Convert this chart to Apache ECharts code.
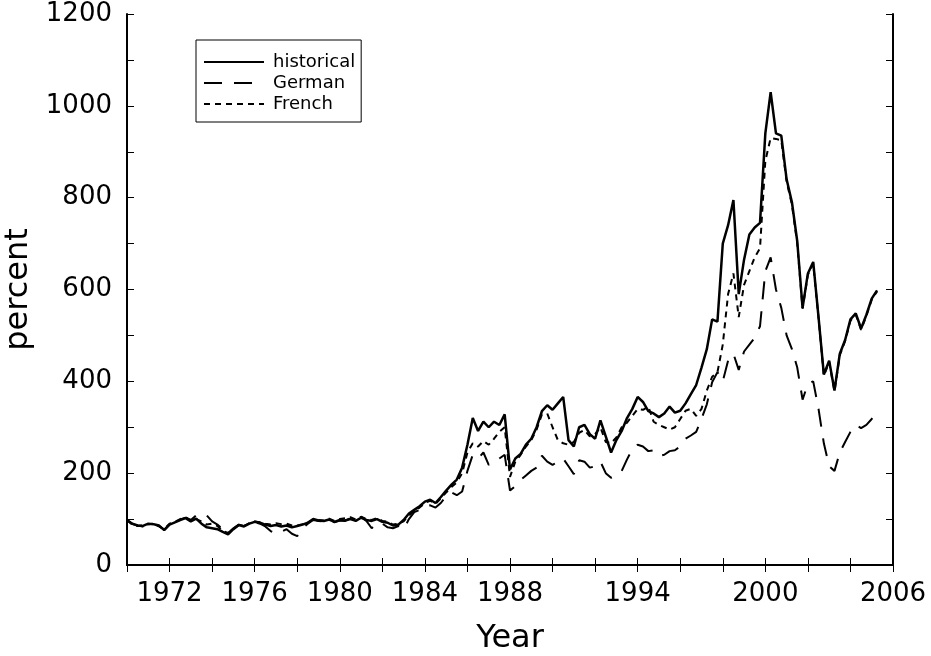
<!DOCTYPE html>
<html>
<head>
<meta charset="utf-8">
<script src="https://cdn.jsdelivr.net/npm/echarts@6/dist/echarts.min.js"></script>
<style>
  html, body { margin: 0; padding: 0; background: #fff; }
  #main { width: 931px; height: 656px; }
</style>
</head>
<body>
<div id="main"></div>
<script>
// quarterly samples, first one at 1970.0
var startYear = 1970;
var step = 0.25;

var xLabels = [1972, 1976, 1980, 1984, 1988, 1994, 2000, 2006];

var historical = [
  98, 90, 86, 85, 90, 89, 86, 76, 88, 93, 98, 102,
  95, 101, 90, 82, 80, 78, 72, 67, 78, 87, 84, 90,
  94, 92, 88, 85, 87, 84, 86, 82, 85, 88, 92, 100,
  97, 96, 99, 94, 98, 97, 100, 96, 103, 98, 96, 100,
  94, 92, 86, 88, 98, 112, 120, 128, 138, 142, 135, 148,
  162, 175, 186, 212, 262, 320, 292, 312, 300, 312, 305, 328,
  208, 232, 242, 262, 275, 300, 335, 348, 338, 352, 366, 272,
  258, 300, 305, 285, 275, 315, 280, 245, 272, 292, 320, 340,
  366, 355, 335, 330, 322, 330, 345, 332, 336, 352, 372, 392,
  430, 470, 535, 530, 700, 740, 795, 590, 665, 720, 735, 745,
  940, 1030, 940, 935, 840, 790, 705, 560, 635, 660, 540, 415,
  445, 380, 460, 490, 535, 548, 515, 545, 580, 598
];

var german = [
  98, 89, 86, 84, 89, 88, 85, 77, 89, 92, 99, 103,
  98, 108, 112, 108, 95, 88, 78, 70, 80, 88, 85, 90,
  93, 90, 84, 74, 68, 72, 78, 68, 63, 80, 90, 98,
  96, 95, 98, 93, 97, 96, 102, 98, 105, 96, 80, 92,
  90, 82, 80, 85, 78, 100, 115, 120, 128, 130, 125, 135,
  150, 158, 152, 160, 205, 240, 232, 245, 218, 225, 232, 240,
  162, 172, 185, 195, 205, 212, 238, 225, 218, 225, 232, 215,
  198, 228, 225, 212, 215, 225, 200, 190, 195, 205, 230, 252,
  262, 258, 248, 250, 238, 240, 248, 250, 258, 275, 282, 290,
  318, 350, 398, 420, 400, 445, 460, 425, 465, 480, 495, 520,
  640, 670, 600, 560, 500, 470, 430, 360, 395, 400, 340, 265,
  215, 205, 245, 268, 290, 305, 298, 305, 318, 332
];

var french = [
  98, 88, 85, 86, 89, 90, 84, 78, 90, 94, 100, 104,
  97, 100, 95, 88, 90, 85, 74, 70, 79, 86, 85, 91,
  95, 93, 90, 88, 91, 89, 90, 86, 86, 89, 93, 99,
  98, 97, 101, 96, 100, 102, 104, 99, 105, 100, 98, 102,
  96, 94, 88, 90, 95, 108, 118, 125, 135, 140, 133, 145,
  158, 170, 180, 200, 245, 265, 258, 270, 262, 275, 290, 300,
  192, 225, 240, 258, 272, 295, 328, 330, 300, 272, 265, 262,
  268, 288, 294, 280, 285, 300, 268, 265, 278, 300, 310, 325,
  340, 338, 345, 312, 305, 300, 295, 300, 318, 336, 340, 325,
  340, 380, 410, 420, 480, 590, 635, 540, 610, 640, 670, 690,
  880, 930, 928, 925, 835, 785, 700, 558, 632, 656, 538, 412,
  442, 378, 457, 488, 532, 545, 512, 543, 578, 596
];

function toPairs(arr) {
  return arr.map(function (v, i) {
    return [startYear + i * step, v];
  });
}

var labelFont = {
  fontFamily: 'DejaVu Sans',
  fontSize: 26,
  color: '#000'
};

var chart = echarts.init(document.getElementById('main'));
var option = {
  backgroundColor: '#fff',
  animation: false,
  grid: {
    left: 127,
    right: 38,
    top: 14,
    bottom: 91,
    containLabel: false,
    outerBoundsMode: 'none'
  },
  legend: {
    orient: 'vertical',
    left: 196,
    top: 40,
    itemWidth: 60,
    itemHeight: 14,
    itemGap: 3,
    padding: [13, 6, 9, 7],
    borderColor: '#000',
    borderWidth: 1,
    backgroundColor: '#fff',
    itemStyle: { opacity: 0 },
    textStyle: {
      fontFamily: 'DejaVu Sans',
      fontSize: 18,
      lineHeight: 14,
      padding: [0, 0, 0, 4],
      color: '#000'
    },
    data: ['historical', 'German', 'French']
  },
  xAxis: [
    {
      type: 'value',
      min: 1970,
      max: 2006,
      interval: 2,
      position: 'bottom',
      name: 'Year',
      nameLocation: 'middle',
      nameGap: 58,
      nameTextStyle: { fontFamily: 'DejaVu Sans', fontSize: 32, color: '#000' },
      axisLine: { lineStyle: { color: '#000', width: 2 } },
      axisTick: { inside: true, length: 7, lineStyle: { color: '#000', width: 1 } },
      axisLabel: Object.assign({
        margin: 16,
        formatter: function (v) {
          return xLabels.indexOf(v) >= 0 ? String(v) : '';
        }
      }, labelFont),
      splitLine: { show: false }
    },
    {
      type: 'value',
      min: 1970,
      max: 2006,
      interval: 2,
      position: 'top',
      axisLine: { lineStyle: { color: '#000', width: 2 } },
      axisTick: { inside: true, length: 7, lineStyle: { color: '#000', width: 1 } },
      axisLabel: { show: false },
      splitLine: { show: false }
    }
  ],
  yAxis: [
    {
      type: 'value',
      min: 0,
      max: 1200,
      interval: 100,
      position: 'left',
      name: 'percent',
      nameLocation: 'middle',
      nameGap: 88,
      nameTextStyle: { fontFamily: 'DejaVu Sans', fontSize: 32, color: '#000' },
      axisLine: { show: true, lineStyle: { color: '#000', width: 2 } },
      axisTick: { show: true, inside: true, length: 7, lineStyle: { color: '#000', width: 1 } },
      axisLabel: Object.assign({
        margin: 15,
        formatter: function (v) {
          return v % 200 === 0 ? String(v) : '';
        }
      }, labelFont),
      splitLine: { show: false }
    },
    {
      type: 'value',
      min: 0,
      max: 1200,
      interval: 100,
      position: 'right',
      axisLine: { show: true, lineStyle: { color: '#000', width: 2 } },
      axisTick: { show: true, inside: true, length: 7, lineStyle: { color: '#000', width: 1 } },
      axisLabel: { show: false },
      splitLine: { show: false }
    }
  ],
  series: [
    {
      name: 'German',
      type: 'line',
      data: toPairs(german),
      symbol: 'none',
      z: 2,
      lineStyle: { color: '#000', width: 2, type: [18, 12] },
      itemStyle: { color: '#000' }
    },
    {
      name: 'French',
      type: 'line',
      data: toPairs(french),
      symbol: 'none',
      z: 3,
      lineStyle: { color: '#000', width: 2, type: [6, 5] },
      itemStyle: { color: '#000' }
    },
    {
      name: 'historical',
      type: 'line',
      data: toPairs(historical),
      symbol: 'none',
      z: 4,
      lineStyle: { color: '#000', width: 2.5, type: 'solid' },
      itemStyle: { color: '#000' }
    }
  ]
};
chart.setOption(option);
</script>
</body>
</html>
